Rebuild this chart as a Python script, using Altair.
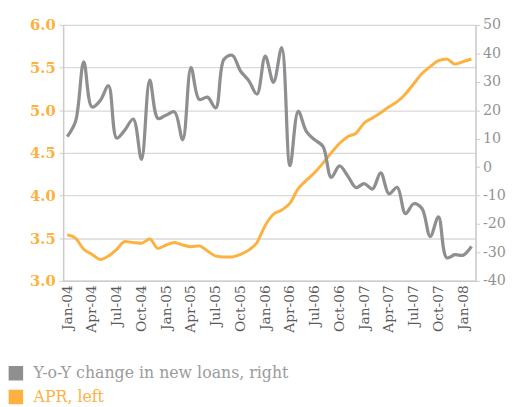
import altair as alt
import pandas as pd

months = [f"{m}-{y:02d}" for y in range(4, 9) for m in
          ["Jan", "Feb", "Mar", "Apr", "May", "Jun", "Jul", "Aug", "Sep", "Oct", "Nov", "Dec"]][:50]
quarter_labels = [m for m in months if m[:3] in ("Jan", "Apr", "Jul", "Oct")]

yoy_loans = [10.7, 16.0, 37.0, 21.1, 23.4, 28.6, 10.2, 13.1, 16.9, 2.7,
             30.6, 17.1, 18.3, 19.4, 9.6, 35.0, 23.8, 24.6, 20.8, 37.9,
             39.3, 33.8, 30.4, 25.7, 39.0, 29.8, 42.0, 0.5, 19.6, 12.5,
             9.6, 7.3, -3.6, 0.4, -3.1, -7.2, -5.8, -7.7, -2.0, -9.4,
             -7.1, -16.4, -12.9, -14.6, -24.4, -17.5, -31.9, -30.8, -31.0, -27.9]
apr = [3.54, 3.50, 3.37, 3.31, 3.25, 3.29, 3.37, 3.46, 3.45, 3.44,
       3.49, 3.38, 3.42, 3.45, 3.42, 3.40, 3.41, 3.35, 3.29, 3.28,
       3.28, 3.31, 3.36, 3.45, 3.65, 3.78, 3.83, 3.91, 4.08, 4.18,
       4.27, 4.38, 4.50, 4.61, 4.69, 4.73, 4.85, 4.91, 4.97, 5.04,
       5.10, 5.19, 5.31, 5.43, 5.51, 5.58, 5.60, 5.54, 5.57, 5.60]

GRAY_NAME = "Y-o-Y change in new loans, right"
APR_NAME = "APR, left"
ORANGE = "#FDB140"
GRAY = "#8E8F91"
FONT = "DejaVu Serif"

df = pd.DataFrame({"month": months, "yoy": yoy_loans, "apr": apr,
                   "s_gray": GRAY_NAME, "s_apr": APR_NAME})

x = alt.X("month:O", sort=months, title=None,
          scale=alt.Scale(type="point", padding=0.5),
          axis=alt.Axis(values=quarter_labels, labelAngle=-90, labelFont=FONT,
                        labelFontSize=14, labelColor="#5a5a5a", ticks=False,
                        domainColor="#cccccc", domainWidth=1.5, labelPadding=4,
                        grid=False))


def legend(y, fill, label_color):
    return alt.Legend(orient="none", legendX=-56, legendY=y,
                      symbolType="square", symbolSize=175,
                      symbolFillColor=fill, symbolStrokeColor=fill,
                      symbolOpacity=1, labelOffset=10,
                      labelFont=FONT, labelFontSize=16, labelLimit=400,
                      labelColor=label_color, padding=0)


apr_line = alt.Chart(df).mark_line(strokeWidth=3, interpolate="monotone").encode(
    x=x,
    y=alt.Y("apr:Q", title=None,
            scale=alt.Scale(domain=[3.0, 6.0], nice=False, zero=False),
            axis=alt.Axis(orient="left", values=[3.0, 3.5, 4.0, 4.5, 5.0, 5.5, 6.0],
                          format=".1f", labelColor=ORANGE, labelFont=FONT,
                          labelFontSize=15, labelFontWeight="bold", grid=True,
                          gridColor="#d9d9d9", gridWidth=1.3, domainColor="#cccccc",
                          domainWidth=1.5, tickColor="#cccccc", tickSize=4,
                          labelPadding=4)),
    color=alt.Color("s_apr:N", title=None,
                    scale=alt.Scale(domain=[APR_NAME], range=[ORANGE]),
                    legend=legend(370, ORANGE, ORANGE)),
)

gray_line = alt.Chart(df).mark_line(strokeWidth=3.3, interpolate="catmull-rom").encode(
    x=x,
    y=alt.Y("yoy:Q", title=None,
            scale=alt.Scale(domain=[-40, 50], nice=False, zero=False),
            axis=alt.Axis(orient="right", values=list(range(-40, 51, 10)),
                          labelExpr="'' + datum.value",
                          labelColor="#939393", labelFont=FONT, labelFontSize=14.5,
                          grid=False, domainColor="#cccccc", domainWidth=1.5,
                          tickColor="#cccccc", tickSize=4, labelPadding=3)),
    color=alt.Color("s_gray:N", title=None,
                    scale=alt.Scale(domain=[GRAY_NAME], range=[GRAY]),
                    legend=legend(346, GRAY, "#9b9b9b")),
)

chart = alt.layer(apr_line, gray_line).resolve_scale(
    y="independent", color="independent"
).properties(
    width=419, height=260,
    autosize=alt.AutoSizeParams(type="none"),
    padding={"left": 56, "top": 14, "right": 37, "bottom": 125},
).configure_view(strokeWidth=0).configure(background="white")

chart.save("out.html", embed_options={"renderer": "svg", "actions": False})
